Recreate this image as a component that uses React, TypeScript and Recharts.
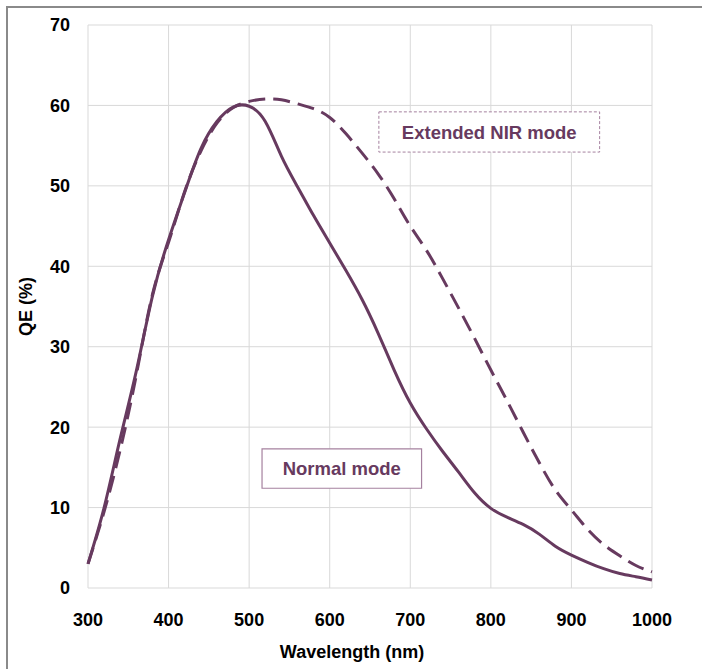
import { LineChart, Line, XAxis, YAxis, CartesianGrid, ReferenceArea } from "recharts";

const wavelengths = [
  300, 320, 340, 360, 380, 400, 420, 440, 460, 480, 500, 520, 540, 560, 580, 600, 620, 640, 660, 680,
  700, 720, 740, 760, 780, 800, 820, 840, 860, 880, 900, 920, 940, 960, 980, 1000,
];
const normalMode = [
  3, 10, 18.6, 27, 36.3, 43.3, 49.2, 54.6, 58, 59.8, 59.9, 58, 53.7, 49.9, 46.3, 42.9, 39.5, 35.9, 31.7, 27.1,
  23, 19.8, 17, 14.4, 11.8, 9.9, 8.8, 7.9, 6.7, 5.2, 4.1, 3.2, 2.4, 1.8, 1.4, 1,
];
const extendedMode = [
  3, 9.5, 17.2, 26.5, 36.5, 43, 49.3, 54.3, 57.8, 59.7, 60.5, 60.8, 60.7, 60.2, 59.6, 58.5, 56.5, 54.1, 51.5, 48.4,
  45, 42, 38.5, 34.8, 31, 27.1, 23.3, 19.4, 15.6, 12.2, 9.7, 7.3, 5.4, 4, 2.8, 2,
];
const xTicks = [300, 400, 500, 600, 700, 800, 900, 1000];
const yTicks = [0, 10, 20, 30, 40, 50, 60, 70];

// annotation boxes, in data units
const extendedBox = { label: "Extended NIR mode", x1: 661, x2: 935, y1: 54.2, y2: 59.2 };
const normalBox = { label: "Normal mode", x1: 516, x2: 714, y1: 12.4, y2: 17.3 };

const rows = wavelengths.map((wl, i) => ({ wl, normal: normalMode[i], extended: extendedMode[i] }));

const FONT = "'Liberation Sans', Arial, sans-serif";
const PURPLE = "#673a5f";
const tick = { fontSize: 18, fontWeight: "bold", fill: "#000", fontFamily: FONT };

export default function App() {
  return (
    <div style={{ position: "absolute", left: 0, top: 0, width: 702, height: 669, overflow: "hidden", background: "#fff" }}>
      <div
        style={{
          position: "absolute",
          left: 6,
          top: 6,
          width: 760,
          height: 760,
          borderTop: "2px solid #8a8a8a",
          borderLeft: "2px solid #8a8a8a",
        }}
      />
      <div style={{ position: "absolute", left: 8, top: 8 }}>
        <LineChart width={694} height={661} data={rows} margin={{ top: 17, right: 50, bottom: 0, left: 0 }}>
          <CartesianGrid stroke="#d9d9d9" strokeWidth={1} />
          <XAxis
            dataKey="wl"
            type="number"
            domain={[300, 1000]}
            ticks={xTicks}
            height={81}
            axisLine={false}
            tickLine={false}
            tickSize={0}
            tickMargin={25}
            tick={tick}
            label={{
              value: "Wavelength (nm)",
              position: "center",
              dx: -18,
              dy: 23,
              style: { fontSize: 18, fontWeight: "bold", fill: "#000", fontFamily: FONT },
            }}
          />
          <YAxis
            type="number"
            domain={[0, 70]}
            ticks={yTicks}
            width={80}
            axisLine={false}
            tickLine={false}
            tickSize={0}
            tickMargin={18}
            tick={tick}
            label={{
              value: "QE (%)",
              angle: -90,
              position: "center",
              dx: -22,
              style: { fontSize: 18, fontWeight: "bold", fill: "#000", fontFamily: FONT },
            }}
          />
          <ReferenceArea
            x1={extendedBox.x1}
            x2={extendedBox.x2}
            y1={extendedBox.y1}
            y2={extendedBox.y2}
            fill="#fff"
            fillOpacity={1}
            stroke="#a5819f"
            strokeWidth={1}
            strokeDasharray="3 2"
            label={{
              value: extendedBox.label,
              position: "center",
              style: { fontSize: 18.5, fontWeight: "bold", fill: PURPLE, fontFamily: FONT },
            }}
          />
          <ReferenceArea
            x1={normalBox.x1}
            x2={normalBox.x2}
            y1={normalBox.y1}
            y2={normalBox.y2}
            fill="#fff"
            fillOpacity={1}
            stroke="#a5819f"
            strokeWidth={1.2}
            label={{
              value: normalBox.label,
              position: "center",
              style: { fontSize: 18.5, fontWeight: "bold", fill: PURPLE, fontFamily: FONT },
            }}
          />
          <Line
            type="natural"
            dataKey="extended"
            stroke={PURPLE}
            strokeWidth={3}
            strokeDasharray="17 8"
            dot={false}
            isAnimationActive={false}
          />
          <Line
            type="natural"
            dataKey="normal"
            stroke={PURPLE}
            strokeWidth={3}
            dot={false}
            isAnimationActive={false}
          />
        </LineChart>
      </div>
    </div>
  );
}
